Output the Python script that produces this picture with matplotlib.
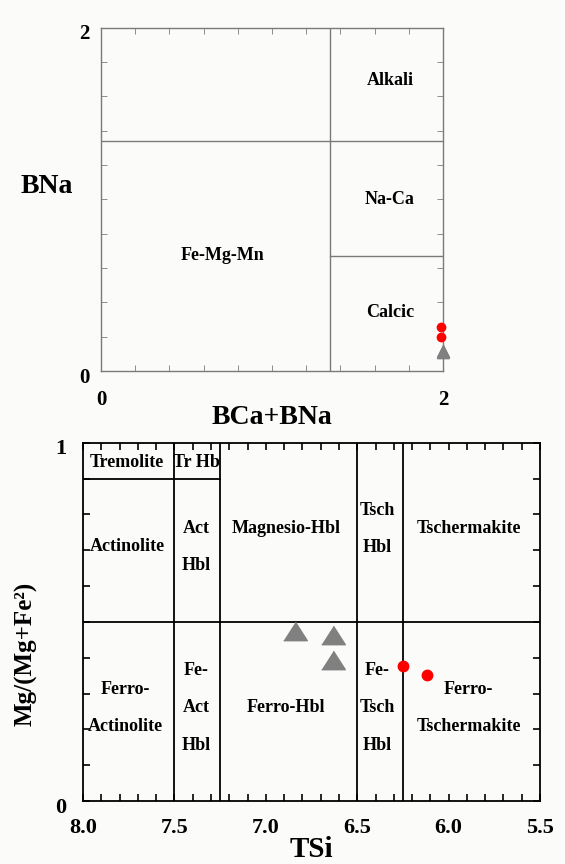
import matplotlib.pyplot as plt
from matplotlib.ticker import MultipleLocator, FixedLocator
from matplotlib.transforms import ScaledTranslation

plt.rcParams['font.family'] = ['Liberation Serif', 'DejaVu Serif']
plt.rcParams['font.weight'] = 'bold'

# --- B-site classification (BCa+BNa vs BNa) ---
top_circle_x = [1.99, 1.99]
top_circle_y = [0.258, 0.198]
top_tri_x = [2.0, 2.0, 2.0]
top_tri_y = [0.112, 0.118, 0.112]

top_fields = ['Alkali', 'Na-Ca', 'Fe-Mg-Mn', 'Calcic']
top_field_x = [1.69, 1.69, 0.71, 1.69]
top_field_y = [1.69, 1.0, 0.67, 0.34]

# --- calcic amphibole classification (TSi vs Mg/(Mg+Fe2)) ---
tri_tsi = [6.84, 6.63, 6.63]
tri_mg = [0.475, 0.463, 0.393]
circ_tsi = [6.25, 6.12]
circ_mg = [0.378, 0.352]

tsi_ticks = [8.0, 7.5, 7.0, 6.5, 6.0, 5.5]
tsi_labels = ['8.0', '7.5', '7.0', '6.5', '6.0', '5.5']

fields = ['Tremolite', 'Tr Hb', 'Actinolite', 'Act\nHbl', 'Magnesio-Hbl',
          'Tsch\nHbl', 'Tschermakite', 'Ferro-\nActinolite',
          'Fe-\nAct\nHbl', 'Ferro-Hbl', 'Fe-\nTsch\nHbl',
          'Ferro-\nTschermakite']
field_x = [7.76, 7.38, 7.76, 7.38, 6.89, 6.39, 5.89, 7.77, 7.38, 6.89, 6.39, 5.89]
field_y = [0.945, 0.945, 0.71, 0.71, 0.761, 0.76, 0.761, 0.26, 0.26, 0.261, 0.26, 0.26]

bg = '#fbfbfa'
fig = plt.figure(figsize=(5.65, 8.64), dpi=100, facecolor=bg)


def shift_labels(labels, dy_px):
    # nudge tick labels down a few pixels
    for lbl in labels:
        lbl.set_transform(lbl.get_transform() +
                          ScaledTranslation(0, -dy_px / 100, fig.dpi_scale_trans))


# upper diagram
ax1 = fig.add_axes([0.1788, 0.5706, 0.6053, 0.3974], facecolor=bg)
ax1.set_xlim(0, 2)
ax1.set_ylim(0, 2)
gray = '#7a7a7a'
for s in ax1.spines.values():
    s.set_color(gray)
    s.set_linewidth(1.0)
ax1.axvline(1.34, color=gray, lw=1.0)
ax1.axhline(1.34, color=gray, lw=1.0)
ax1.plot([1.34, 2], [0.67, 0.67], color=gray, lw=1.0)
ax1.xaxis.set_major_locator(FixedLocator([0, 2]))
ax1.yaxis.set_major_locator(FixedLocator([0, 2]))
ax1.set_xticklabels(['0', '2'])
ax1.set_yticklabels(['0', '2'])
ax1.xaxis.set_minor_locator(MultipleLocator(0.2))
ax1.yaxis.set_minor_locator(MultipleLocator(0.2))
ax1.tick_params(which='major', length=0, labelsize=15)
ax1.tick_params(axis='x', which='major', pad=14)
ax1.tick_params(axis='y', which='major', pad=8)
ax1.tick_params(which='minor', direction='in', length=4, color=gray,
                top=True, right=True)
shift_labels(ax1.get_yticklabels(), 4)
ax1.set_xlabel('BCa+BNa', fontsize=20, fontweight='bold', labelpad=-4)
ax1.set_ylabel('BNa', fontsize=20, fontweight='bold', rotation=0)
ax1.yaxis.label.set_va('center')
ax1.yaxis.set_label_coords(-0.16, 0.536)
for t, x, y in zip(top_fields, top_field_x, top_field_y):
    ax1.text(x, y, t, ha='center', va='center', fontsize=13, fontweight='bold')
ax1.plot(top_tri_x, top_tri_y, '^', color='#808080', ms=9, clip_on=False, zorder=3)
ax1.plot(top_circle_x, top_circle_y, 'o', color='#ff0000', ms=6, clip_on=False, zorder=4)

# lower diagram
ax2 = fig.add_axes([0.147, 0.0729, 0.8088, 0.4147], facecolor=bg)
ax2.set_xlim(8.0, 5.5)
ax2.set_ylim(0, 1)
for s in ax2.spines.values():
    s.set_color('black')
    s.set_linewidth(1.3)
for xv in [7.5, 7.25, 6.5, 6.25]:
    ax2.axvline(xv, color='black', lw=1.3)
ax2.axhline(0.5, color='black', lw=1.3)
ax2.plot([8.0, 7.25], [0.9, 0.9], color='black', lw=1.3)
ax2.xaxis.set_major_locator(FixedLocator(tsi_ticks))
ax2.set_xticklabels(tsi_labels)
ax2.yaxis.set_major_locator(FixedLocator([0, 1]))
ax2.set_yticklabels(['0', '1'])
ax2.xaxis.set_minor_locator(MultipleLocator(0.1))
ax2.yaxis.set_minor_locator(MultipleLocator(0.1))
ax2.tick_params(which='major', direction='in', length=5, width=1.2,
                labelsize=16, top=True, right=True)
ax2.tick_params(axis='x', which='major', pad=12)
ax2.tick_params(axis='y', which='major', pad=12)
ax2.tick_params(which='minor', direction='in', length=5, width=1.2,
                top=True, right=True)
shift_labels(ax2.get_yticklabels(), 4)
ax2.set_xlabel('TSi', fontsize=21, fontweight='bold', labelpad=-1)
ax2.set_ylabel('Mg/(Mg+Fe²)', fontsize=18, fontweight='bold')
ax2.yaxis.set_label_coords(-0.10, 0.41)
for t, x, y in zip(fields, field_x, field_y):
    ax2.text(x, y, t, ha='center', va='center', fontsize=13, fontweight='bold',
             linespacing=2.55)
tri = [(-1.0, -0.78), (1.0, -0.78), (0.0, 0.78)]
ax2.plot(tri_tsi, tri_mg, linestyle='none', marker=tri, color='#808080', ms=17, zorder=3)
ax2.plot(circ_tsi, circ_mg, 'o', color='#ff0000', ms=7.5, zorder=4)

fig.savefig('out.png', dpi=100, facecolor=bg)
